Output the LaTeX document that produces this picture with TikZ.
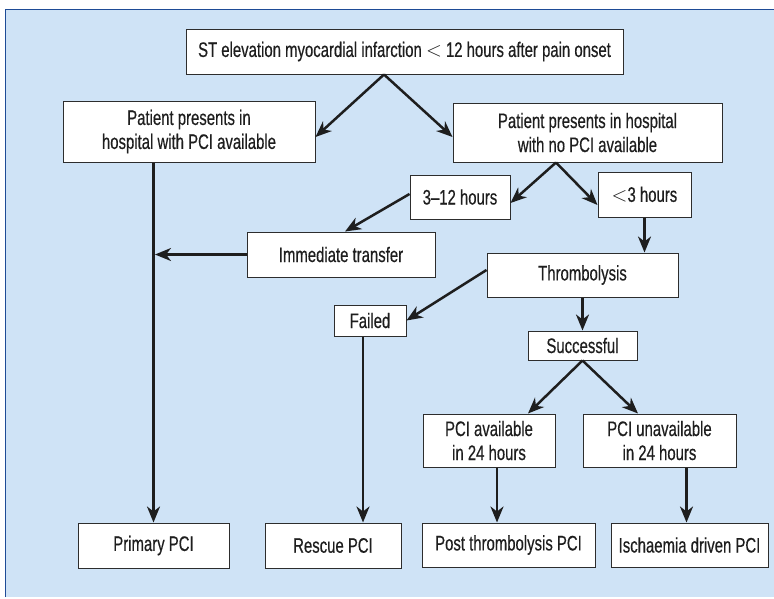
\documentclass[tikz,border=0pt]{standalone}
\usepackage{fontspec}
\setmainfont{Liberation Sans}[FakeStretch=0.71,FakeBold=0.4]
\usetikzlibrary{arrows.meta,calc}

\newlength{\du}
\setlength{\du}{1pt}

\definecolor{panelfill}{RGB}{207,227,246}
\definecolor{panelline}{RGB}{30,75,150}
\definecolor{boxline}{RGB}{45,45,45}
\definecolor{inkcolor}{RGB}{30,30,30}

\tikzset{
  box/.style={draw=boxline, fill=white, line width=1\du, inner sep=0pt,
    align=center, text=inkcolor, font=\fontsize{21}{24}\selectfont},
  flow/.style={draw=inkcolor, line width=2.5\du,
    -{Stealth[length=16pt,width=13pt,inset=5pt]}},
}

\begin{document}
\begin{tikzpicture}
\pgftransformxscale{1.000000}
\pgftransformyscale{-1.000000}
\useasboundingbox (0\du,0\du) rectangle (774\du,598\du);
% panel
\fill[panelfill] (5.5\du,9.5\du) rectangle (780\du,597\du);
\draw[panelline, line width=1.5\du] (5.5\du,597\du)--(5.5\du,9.5\du)--(780\du,9.5\du);
% boxes
\node[box, minimum width=437\du, minimum height=45\du] (stemi) at (404.5\du,51.5\du){ST elevation myocardial infarction $<$ 12 hours after pain onset};
\node[box, minimum width=252\du, minimum height=61\du] (hospPCI) at (189\du,131.5\du){Patient presents in\\hospital with PCI available};
\node[box, minimum width=269\du, minimum height=59\du] (hospNoPCI) at (587.5\du,132.5\du){Patient presents in hospital\\with no PCI available};
\node[box, minimum width=100\du, minimum height=44\du] (late) at (460\du,197\du){3--12 hours};
\node[box, minimum width=93\du, minimum height=45\du] (early) at (644.5\du,194.5\du){$<$3 hours};
\node[box, minimum width=188\du, minimum height=45\du] (transfer) at (341\du,254.5\du){Immediate transfer};
\node[box, minimum width=191\du, minimum height=44\du] (thromb) at (582.5\du,275\du){Thrombolysis};
\node[box, minimum width=72\du, minimum height=31\du] (failed) at (370\du,320.5\du){Failed};
\node[box, minimum width=109\du, minimum height=29\du] (success) at (582.5\du,345.5\du){Successful};
\node[box, minimum width=132\du, minimum height=53\du] (avail) at (489\du,440.5\du){PCI available\\in 24 hours};
\node[box, minimum width=153\du, minimum height=53\du] (unavail) at (659.5\du,440.5\du){PCI unavailable\\in 24 hours};
\node[box, minimum width=151\du, minimum height=45\du] (primary) at (153.5\du,545.5\du){Primary PCI};
\node[box, minimum width=136\du, minimum height=45\du] (rescue) at (333\du,545.5\du){Rescue PCI};
\node[box, minimum width=173\du, minimum height=44\du] (post) at (508.5\du,545\du){Post thrombolysis PCI};
\node[box, minimum width=157\du, minimum height=44\du] (ischaemia) at (689.5\du,545\du){Ischaemia driven PCI};
% split points
\coordinate (stemifork) at ($(stemi.south)+(-20.5\du,0\du)$);
\coordinate (hospfork) at ($(hospNoPCI.south)+(-31.5\du,0\du)$);
\coordinate (failfoot) at ($(failed.south)+(-7\du,0\du)$);
\coordinate (availfoot) at ($(avail.south)+(8\du,0\du)$);
\coordinate (unavailfoot) at ($(unavail.south)+(27\du,0\du)$);
% arrows
\draw[flow] (stemifork)--($(hospPCI.east)+(0\du,5.5\du)$);
\draw[flow] (stemifork)--($(hospNoPCI.west)+(0\du,4.5\du)$);
\draw[flow] (hospfork)--($(late.east)+(0\du,6\du)$);
\draw[flow] (hospfork)--($(early.west)+(0\du,10.5\du)$);
\draw[flow] ($(late.west)+(0\du,-3\du)$)--($(transfer.north)+(4\du,0\du)$);
\draw[flow] (transfer.west)--($(primary.north |- transfer.west)+(1.5\du,0\du)$);
\draw[flow] (primary.north |- hospPCI.south)--(primary.north);
\draw[flow] (early.south)--(early.south |- thromb.north);
\draw[flow] ($(thromb.west)+(0\du,-5\du)$)--(failed.east);
\draw[flow] (thromb.south)--(success.north);
\draw[flow] (failfoot)--(failfoot |- rescue.north);
\draw[flow] (success.south)--($(avail.north)+(39\du,0\du)$);
\draw[flow] (success.south)--($(unavail.north)+(-21.5\du,0\du)$);
\draw[flow] (availfoot)--(availfoot |- post.north);
\draw[flow] (unavailfoot)--(unavailfoot |- ischaemia.north);
\end{tikzpicture}
\end{document}
